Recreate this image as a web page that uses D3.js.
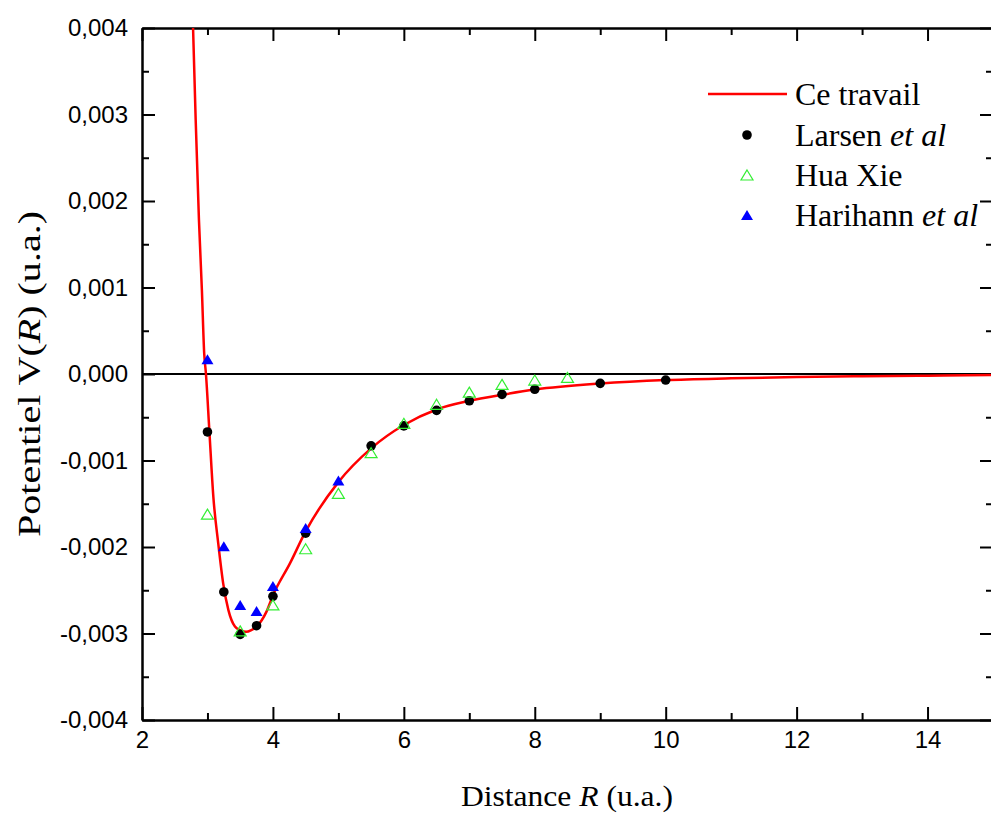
<!DOCTYPE html>
<html>
<head>
<meta charset="utf-8">
<script src="https://cdn.jsdelivr.net/npm/d3@7"></script>
<style>
  body { margin: 0; background: #fff; }
  svg { display: block; }
</style>
</head>
<body>
<div id="chart"></div>
<script>
const width = 991;
const height = 816;
const margin = { top: 28, right: -2, bottom: 96, left: 142 };

// potential curve "Ce travail" (R in u.a., V in 1e-3 u.a.)
const curveR = [2.78, 2.82, 2.87, 2.915, 2.95, 2.977, 3.03, 3.09, 3.165, 3.24, 3.32, 3.42, 3.5, 3.59, 3.67, 3.75, 3.9, 4.0, 4.26, 4.5, 5.0, 5.5, 6.0, 6.5, 7.0, 7.5, 8.0, 9.0, 10.0, 11.0, 12.0, 13.0, 14.0, 15.0];
const curveV = [4.0, 2.94, 1.78, 0.97, 0.24, 0.0, -0.67, -1.42, -1.96, -2.42, -2.73, -2.92, -2.96, -2.98, -2.96, -2.92, -2.75, -2.56, -2.19, -1.82, -1.25, -0.86, -0.59, -0.41, -0.31, -0.24, -0.18, -0.11, -0.07, -0.05, -0.035, -0.025, -0.02, -0.012];

// Larsen et al
const larsenR = [3, 3.25, 3.5, 3.75, 4, 4.5, 5.5, 6, 6.5, 7, 7.5, 8, 9, 10];
const larsenV = [-0.67, -2.52, -3.01, -2.91, -2.57, -1.84, -0.83, -0.60, -0.42, -0.31, -0.235, -0.177, -0.108, -0.07];

// Hua Xie
const huaR = [3, 3.5, 4, 4.5, 5, 5.5, 6, 6.5, 7, 7.5, 8, 8.5];
const huaV = [-1.62, -2.97, -2.67, -2.02, -1.38, -0.91, -0.57, -0.35, -0.21, -0.12, -0.07, -0.04];

// Harihann et al
const hariR = [3, 3.25, 3.5, 3.75, 4, 4.5, 5];
const hariV = [0.17, -1.99, -2.67, -2.74, -2.45, -1.78, -1.23];

const xTicks = [2, 4, 6, 8, 10, 12, 14];
const xMinor = [3, 5, 7, 9, 11, 13, 15];
const yTicks = [-0.004, -0.003, -0.002, -0.001, 0, 0.001, 0.002, 0.003, 0.004];
const yMinor = [-0.0035, -0.0025, -0.0015, -0.0005, 0.0005, 0.0015, 0.0025, 0.0035];

const legendLabels = ['Ce travail', 'Larsen', 'Hua Xie', 'Harihann'];

const toPts = (rs, vs) => rs.map((r, i) => [r, vs[i] / 1000]);

const x = d3.scaleLinear().domain([2, 15]).range([margin.left, width - margin.right]);
const y = d3.scaleLinear().domain([-0.004, 0.004]).range([height - margin.bottom, margin.top]);

const fr = d3.formatLocale({ decimal: ',', thousands: '.', grouping: [3], currency: ['', ''], minus: '-' });
const fmt = fr.format('.3f');

const svg = d3.select('#chart').append('svg')
  .attr('width', width)
  .attr('height', height);

const sans = '"Liberation Sans", Arial, sans-serif';
const serif = '"Liberation Serif", "Times New Roman", serif';

function styleAxis(g) {
  g.select('.domain').attr('stroke', '#000').attr('stroke-width', 2);
  g.selectAll('.tick line').attr('stroke', '#000').attr('stroke-width', 2);
  g.selectAll('.tick text')
    .attr('fill', '#000')
    .style('font-family', sans)
    .style('font-size', '24px');
}

// left
svg.append('g')
  .attr('transform', `translate(${margin.left},0)`)
  .call(d3.axisLeft(y).tickValues(yTicks).tickFormat(fmt).tickSizeInner(-13).tickSizeOuter(0).tickPadding(14))
  .call(styleAxis);
svg.append('g')
  .attr('transform', `translate(${margin.left},0)`)
  .call(d3.axisLeft(y).tickValues(yMinor).tickFormat('').tickSizeInner(-7).tickSizeOuter(0))
  .call(styleAxis);

// right
svg.append('g')
  .attr('transform', `translate(${width - margin.right},0)`)
  .call(d3.axisRight(y).tickValues(yTicks).tickFormat('').tickSizeInner(-13).tickSizeOuter(0))
  .call(styleAxis);
svg.append('g')
  .attr('transform', `translate(${width - margin.right},0)`)
  .call(d3.axisRight(y).tickValues(yMinor).tickFormat('').tickSizeInner(-7).tickSizeOuter(0))
  .call(styleAxis);

// bottom
svg.append('g')
  .attr('transform', `translate(0,${height - margin.bottom})`)
  .call(d3.axisBottom(x).tickValues(xTicks).tickFormat(d3.format('d')).tickSizeInner(-13).tickSizeOuter(0).tickPadding(11))
  .call(styleAxis);
svg.append('g')
  .attr('transform', `translate(0,${height - margin.bottom})`)
  .call(d3.axisBottom(x).tickValues(xMinor).tickFormat('').tickSizeInner(-7).tickSizeOuter(0))
  .call(styleAxis);

// top
svg.append('g')
  .attr('transform', `translate(0,${margin.top})`)
  .call(d3.axisTop(x).tickValues(xTicks).tickFormat('').tickSizeInner(-13).tickSizeOuter(0))
  .call(styleAxis);
svg.append('g')
  .attr('transform', `translate(0,${margin.top})`)
  .call(d3.axisTop(x).tickValues(xMinor).tickFormat('').tickSizeInner(-7).tickSizeOuter(0))
  .call(styleAxis);

// zero line
svg.append('line')
  .attr('x1', x(2)).attr('x2', x(15))
  .attr('y1', y(0)).attr('y2', y(0))
  .attr('stroke', '#000')
  .attr('stroke-width', 2);

// curve
const line = d3.line()
  .x(d => x(d[0]))
  .y(d => y(d[1]))
  .curve(d3.curveMonotoneX);

svg.append('path')
  .datum(toPts(curveR, curveV))
  .attr('d', line)
  .attr('fill', 'none')
  .attr('stroke', '#ff0000')
  .attr('stroke-width', 2.5);

const triW = 12, triH = 10;
const triPath = `M0,${-triH / 2}L${triW / 2},${triH / 2}L${-triW / 2},${triH / 2}Z`;

// Larsen dots
svg.append('g').selectAll('circle')
  .data(toPts(larsenR, larsenV))
  .enter()
  .append('circle')
  .attr('cx', d => x(d[0]))
  .attr('cy', d => y(d[1]))
  .attr('r', 4.8)
  .attr('fill', '#000');

// Hua Xie open triangles
svg.append('g').selectAll('path')
  .data(toPts(huaR, huaV))
  .enter()
  .append('path')
  .attr('d', triPath)
  .attr('transform', d => `translate(${x(d[0])},${y(d[1])})`)
  .attr('fill', 'none')
  .attr('stroke', '#33ee33')
  .attr('stroke-width', 1.2);

// Harihann filled triangles
svg.append('g').selectAll('path')
  .data(toPts(hariR, hariV))
  .enter()
  .append('path')
  .attr('d', triPath)
  .attr('transform', d => `translate(${x(d[0])},${y(d[1])})`)
  .attr('fill', '#0000ff');

// legend
const legend = svg.append('g').attr('transform', 'translate(708,0)');
const rowY = [94, 135, 175, 215];

legend.append('line')
  .attr('x1', 0).attr('x2', 79)
  .attr('y1', rowY[0]).attr('y2', rowY[0])
  .attr('stroke', '#ff0000').attr('stroke-width', 2.5);
legend.append('circle')
  .attr('cx', 39).attr('cy', rowY[1]).attr('r', 4.8).attr('fill', '#000');
legend.append('path')
  .attr('d', triPath).attr('transform', `translate(39,${rowY[2]})`)
  .attr('fill', 'none').attr('stroke', '#33ee33').attr('stroke-width', 1.2);
legend.append('path')
  .attr('d', triPath).attr('transform', `translate(39,${rowY[3]})`)
  .attr('fill', '#0000ff');

legendLabels.forEach((lab, i) => {
  const t = legend.append('text')
    .attr('x', 87)
    .attr('y', rowY[i] + 11)
    .style('font-family', serif)
    .style('font-size', '32px')
    .text(lab);
  if (i === 1 || i === 3) {
    t.append('tspan').text(' ');
    t.append('tspan').style('font-style', 'italic').text('et al');
  }
});

// axis titles
const xt = svg.append('text')
  .attr('x', 567)
  .attr('y', 806)
  .attr('text-anchor', 'middle')
  .attr('textLength', 212)
  .attr('lengthAdjust', 'spacingAndGlyphs')
  .style('font-family', serif)
  .style('font-size', '30px')
  .text('Distance ');
xt.append('tspan').style('font-style', 'italic').text('R');
xt.append('tspan').text(' (u.a.)');

const yt = svg.append('text')
  .attr('transform', 'translate(40,374) rotate(-90)')
  .attr('text-anchor', 'middle')
  .attr('textLength', 326)
  .attr('lengthAdjust', 'spacingAndGlyphs')
  .style('font-family', serif)
  .style('font-size', '31px')
  .text('Potentiel V(');
yt.append('tspan').style('font-style', 'italic').text('R');
yt.append('tspan').text(') (u.a.)');
</script>
</body>
</html>
